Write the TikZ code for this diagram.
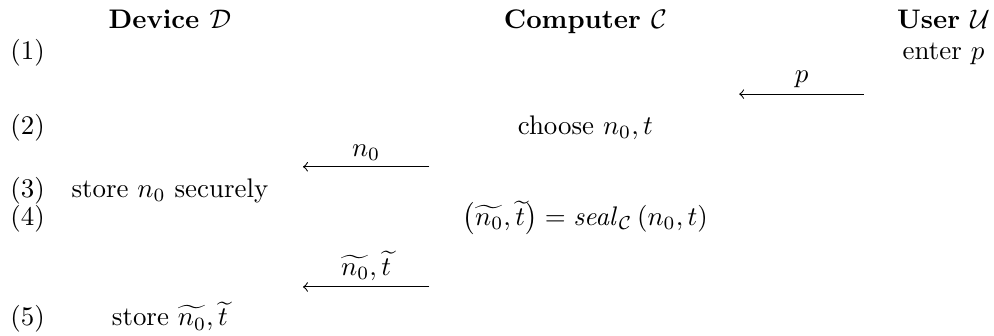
\documentclass[tikz,border=0pt]{standalone}
\usepackage{amsmath}
\usetikzlibrary{positioning}

\begin{document}
\begin{tikzpicture}[
    every node/.style={inner sep=0pt},
    head/.style={font=\bfseries, anchor=base},
    num/.style={anchor=base west},
    act/.style={anchor=base},
    msg/.style={->},
    lbl/.style={midway, above, inner sep=2pt}
]
    \useasboundingbox (0,0) rectangle (12.99,-4.39);

    % Parties
    \node[head] (dev) at (2.22,-0.37) {Device $\mathcal{D}$};
    \node[head] (comp) at (7.65,-0.37) {Computer $\mathcal{C}$};
    \node[head] (user) at (12.33,-0.37) {User $\mathcal{U}$};

    % Step numbers
    \node[num] (s1) at (0.13,-0.78) {(1)};
    \node[num] (s2) at (0.13,-1.76) {(2)};
    \node[num] (s3) at (0.13,-2.58) {(3)};
    \node[num] (s4) at (0.13,-2.95) {(4)};
    \node[num] (s5) at (0.13,-4.26) {(5)};

    % Actions
    \node[act] (enter) at (12.33,-0.78) {enter $p$};
    \node[act] (choose) at (7.65,-1.76) {choose $n_0, t$};
    \node[act] (store) at (2.22,-2.58) {store $n_0$ securely};
    \node[act] (seal) at (7.65,-2.95)
        {$\left(\widetilde{n_0},\widetilde{t}\right) = \mathit{seal}_{\mathcal{C}}\left(n_0, t\right)$};
    \node[act] (store2) at (2.22,-4.26) {store $\widetilde{n_0},\widetilde{t}$};

    % Message ends
    \coordinate (p-from) at (11.29,-1.23);
    \coordinate (p-to) at (9.66,-1.23);
    \coordinate (n-from) at (5.61,-2.18);
    \coordinate (n-to) at (3.96,-2.18);
    \coordinate (sl-from) at (5.61,-3.75);
    \coordinate (sl-to) at (3.96,-3.75);

    % Messages
    \draw[msg] (p-from) -- node[lbl] {$p$} (p-to);
    \draw[msg] (n-from) -- node[lbl] {$n_0$} (n-to);
    \draw[msg] (sl-from) -- node[lbl] {$\widetilde{n_0},\widetilde{t}$} (sl-to);
\end{tikzpicture}
\end{document}
